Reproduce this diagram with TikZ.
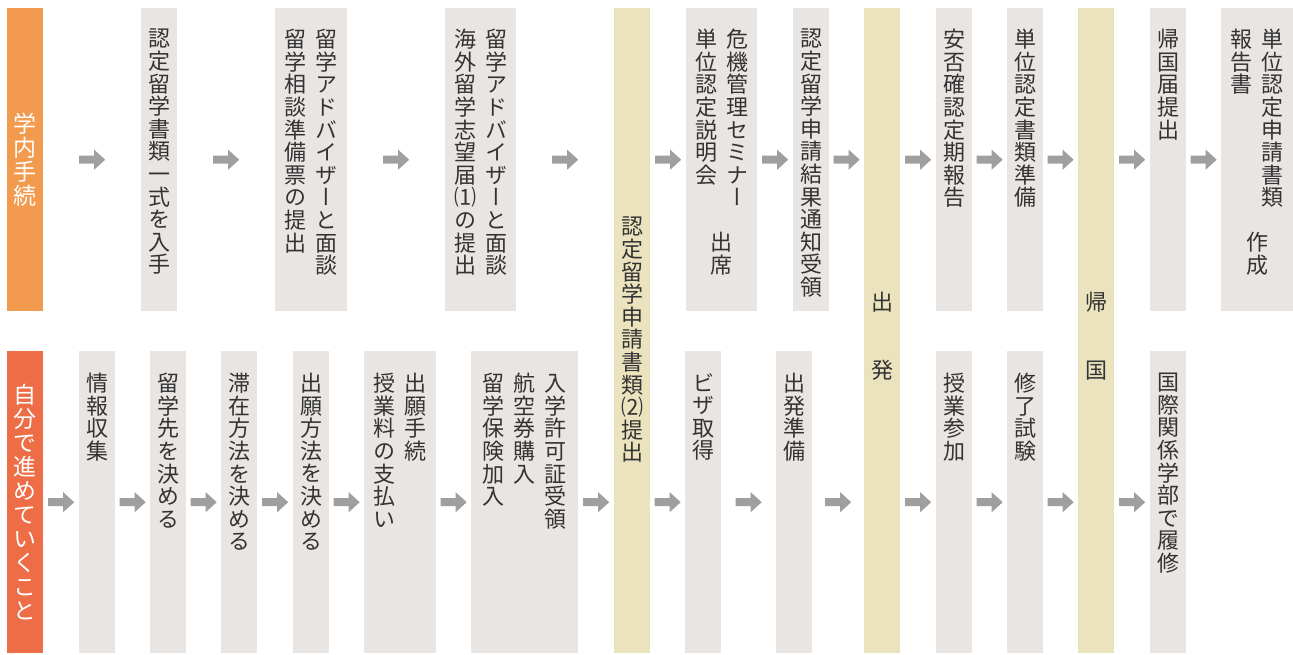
\documentclass[tikz,border=0pt]{standalone}
\usepackage{fontspec}
\newfontfamily\jpv[RawFeature=+vert]{Noto Sans CJK JP}
\definecolor{lblA}{HTML}{F29A4E}
\definecolor{lblB}{HTML}{EC6D46}
\definecolor{boxgray}{HTML}{E9E5E3}
\definecolor{beige}{HTML}{EAE3BE}
\definecolor{arrgray}{HTML}{9E9F9E}
\definecolor{txt}{HTML}{333333}
\makeatletter
\newcommand\vcol[2][22.6pt]{\vtop{\baselineskip=#1\lineskiplimit=-100pt\lineskip=0pt\@tfor\vt@c:=#2\do{\hbox to 24pt{\hss\vt@c\hss}}}}
\makeatother
\def\vb{}
\newcommand\cg{\kern7pt}
\tikzset{
  gbox/.style={fill=boxgray, inner sep=0, anchor=north west, minimum width=36pt, minimum height=303pt},
  brow/.style={minimum height=302pt},
  wide/.style={minimum width=72pt},
  tall/.style={fill=beige, minimum height=645pt},
  lbl/.style={inner sep=0, anchor=north west, minimum width=36pt, text=white, font=\jpv\fontsize{23}{24}\selectfont},
  vt/.style={inner sep=0, anchor=north, text=txt, font=\jpv\fontsize{22}{22.6}\selectfont},
  barrow/.pic={\fill[arrgray] (-13,-4) -- (2,-4) -- (2,-10) -- (13,0) -- (2,10) -- (2,4) -- (-13,4) -- cycle;}
}
\newcommand\flowS[3]{\path (#1.east) -- (#1.east -| #2.west) coordinate[midway] (#3); \pic at (#3) {barrow};}
\newcommand\flowT[3]{\path (#2.west -| #1.east) -- (#2.west) coordinate[midway] (#3); \pic at (#3) {barrow};}
\begin{document}
\begin{tikzpicture}[x=1pt,y=-1pt]
\useasboundingbox (0,0) rectangle (1293,655);
% labels
\node[lbl, fill=lblA, minimum height=303pt] (l1) at (7,8) {\vcol[24pt]{学内手続}};
\node[lbl, fill=lblB, minimum height=302pt] (l2) at (7,351) {\vcol[24pt]{自分で進めていくこと}};
% top row
\node[gbox] (t1) at (141,8) {};
\node[gbox, wide] (t2) at (275,8) {};
\node[gbox, minimum width=71pt] (t3) at (445,8) {};
\node[gbox, tall] (c1) at (614,8) {};
\node[gbox, minimum width=71pt] (t4) at (686,8) {};
\node[gbox] (t5) at (793,8) {};
\node[gbox, tall] (c2) at (864,8) {};
\node[gbox] (t6) at (936,8) {};
\node[gbox] (t7) at (1007,8) {};
\node[gbox, tall] (c3) at (1078,8) {};
\node[gbox] (t8) at (1150,8) {};
\node[gbox, wide] (t9) at (1221,8) {};
% bottom row
\node[gbox, brow] (s1) at (79,351) {};
\node[gbox, brow] (s2) at (150,351) {};
\node[gbox, brow] (s3) at (221,351) {};
\node[gbox, brow] (s4) at (293,351) {};
\node[gbox, brow, wide] (s5) at (364,351) {};
\node[gbox, brow, minimum width=107pt] (s6) at (471,351) {};
\node[gbox, brow] (s7) at (685,351) {};
\node[gbox, brow] (s8) at (776,351) {};
\node[gbox, brow] (s9) at (936,351) {};
\node[gbox, brow] (s10) at (1007,351) {};
\node[gbox, brow] (s11) at (1150,351) {};
% texts top
\node[vt] (t1x) at ([yshift=-21pt]t1.north) {\vcol{認定留学書類一式を入手}};
\node[vt] (t2x) at ([yshift=-21pt]t2.north) {\vcol{留学相談準備票の提出}\cg\vcol{留学アドバイザーと面談}};
\node[vt] (t3x) at ([yshift=-21pt]t3.north) {\vcol{海外留学志望届⑴の提出}\cg\vcol{留学アドバイザーと面談}};
\node[vt] (c1x) at ([yshift=-209pt]c1.north) {\vcol{認定留学申請書類⑵提出}};
\node[vt] (t4x) at ([yshift=-21pt]t4.north) {\vcol{単位認定説明会}\cg\vcol{危機管理セミナー}};
\node[vt] (t4y) at ([yshift=-224.4pt]t4.north) {\vcol{出席}};
\node[vt] (t5x) at ([yshift=-21pt]t5.north) {\vcol{認定留学申請結果通知受領}};
\node[vt] (c2x) at ([yshift=-284pt]c2.north) {\vcol{出\vb\vb 発}};
\node[vt] (t6x) at ([yshift=-21pt]t6.north) {\vcol{安否確認定期報告}};
\node[vt] (t7x) at ([yshift=-21pt]t7.north) {\vcol{単位認定書類準備}};
\node[vt] (c3x) at ([yshift=-284pt]c3.north) {\vcol{帰\vb\vb 国}};
\node[vt] (t8x) at ([yshift=-21pt]t8.north) {\vcol{帰国届提出}};
\node[vt] (t9x) at ([yshift=-21pt]t9.north) {\vcol{報告書}\cg\vcol{単位認定申請書類}};
\node[vt] (t9y) at ([yshift=-224.4pt]t9.north) {\vcol{作成}};
% texts bottom
\node[vt] (s1x) at ([yshift=-22pt]s1.north) {\vcol{情報収集}};
\node[vt] (s2x) at ([yshift=-22pt]s2.north) {\vcol{留学先を決める}};
\node[vt] (s3x) at ([yshift=-22pt]s3.north) {\vcol{滞在方法を決める}};
\node[vt] (s4x) at ([yshift=-22pt]s4.north) {\vcol{出願方法を決める}};
\node[vt] (s5x) at ([yshift=-22pt]s5.north) {\vcol{授業料の支払い}\cg\vcol{出願手続}};
\node[vt] (s6x) at ([yshift=-22pt]s6.north) {\vcol{留学保険加入}\cg\vcol{航空券購入}\cg\vcol{入学許可証受領}};
\node[vt] (s7x) at ([yshift=-22pt]s7.north) {\vcol{ビザ取得}};
\node[vt] (s8x) at ([yshift=-22pt]s8.north) {\vcol{出発準備}};
\node[vt] (s9x) at ([yshift=-22pt]s9.north) {\vcol{授業参加}};
\node[vt] (s10x) at ([yshift=-22pt]s10.north) {\vcol{修了試験}};
\node[vt] (s11x) at ([yshift=-22pt]s11.north) {\vcol{国際関係学部で履修}};
% arrows top
\flowS{l1}{t1}{a1}
\flowS{t1}{t2}{a2}
\flowS{t2}{t3}{a3}
\flowS{t3}{c1}{a4}
\flowT{c1}{t4}{a5}
\flowS{t4}{t5}{a6}
\flowS{t5}{c2}{a7}
\flowT{c2}{t6}{a8}
\flowS{t6}{t7}{a9}
\flowS{t7}{c3}{a10}
\flowT{c3}{t8}{a11}
\flowS{t8}{t9}{a12}
% arrows bottom
\flowS{l2}{s1}{b1}
\flowS{s1}{s2}{b2}
\flowS{s2}{s3}{b3}
\flowS{s3}{s4}{b4}
\flowS{s4}{s5}{b5}
\flowS{s5}{s6}{b6}
\flowS{s6}{c1}{b7}
\flowT{c1}{s7}{b8}
\flowS{s7}{s8}{b9}
\flowS{s8}{c2}{b10}
\flowT{c2}{s9}{b11}
\flowS{s9}{s10}{b12}
\flowS{s10}{c3}{b13}
\flowT{c3}{s11}{b14}
\end{tikzpicture}
\end{document}
